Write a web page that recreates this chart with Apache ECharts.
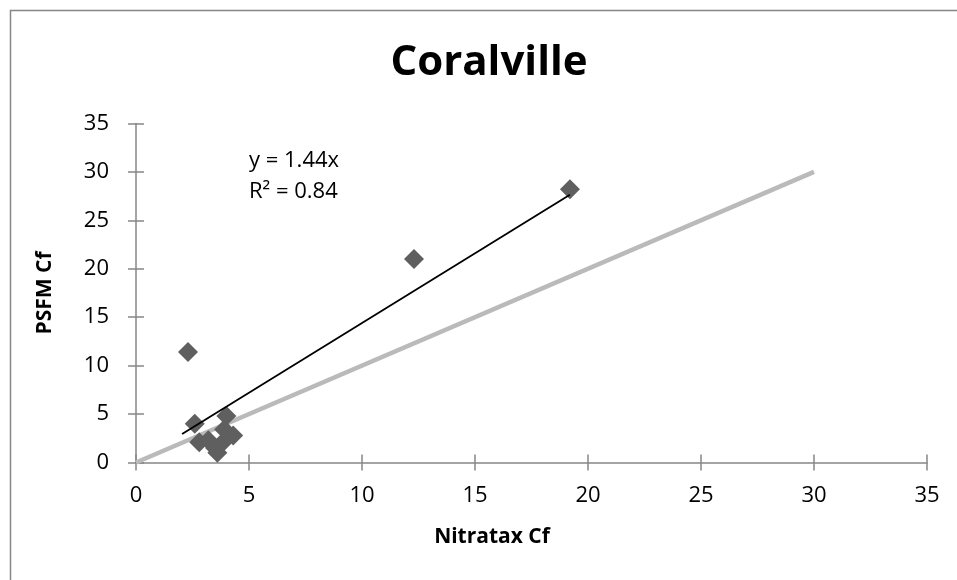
<!DOCTYPE html>
<html><head><meta charset="utf-8">
<script src="https://cdn.jsdelivr.net/npm/echarts@6/dist/echarts.min.js"></script>
<style>html,body{margin:0;padding:0;background:#fff}#c{width:957px;height:580px}</style>
</head><body><div id="c"></div>
<script>
// Data
const nitrataxCf = [2.3, 2.6, 4.0, 4.3, 3.6, 2.8, 3.2, 3.8, 3.9, 3.5, 12.3, 19.2];
const psfmCf     = [11.4, 4.0, 4.8, 2.8, 1.0, 2.1, 2.3, 2.0, 3.4, 1.5, 21.0, 28.2];
const oneToOneX = [0, 30];
const oneToOneY = [0, 30];
const trendX = [2.04, 19.2];
const trendY = [2.94, 27.65];
const trendLabels = ['y = 1.44x', 'R\u00b2 = 0.84'];
const chartTitle = 'Coralville';
const xName = 'Nitratax Cf';
const yName = 'PSFM Cf';
const axisMin = 0, axisMax = 35, axisStep = 5;

const FONT = 'Open Sans';
const AX = '#868686';
const chart = echarts.init(document.getElementById('c'), null, {renderer: 'canvas'});

function baseAxis(extra) {
  return Object.assign({
    type: 'value', min: axisMin, max: axisMax, interval: axisStep,
    splitLine: {show: false},
    axisLine: {onZero: false, lineStyle: {color: AX, width: 1.5}},
    axisTick: {inside: false, length: 8, lineStyle: {color: AX, width: 1.5}},
    axisLabel: {color: '#000', fontFamily: FONT, fontSize: 22}
  }, extra);
}

const option = {
  animation: false,
  backgroundColor: '#fff',
  grid: {left: 136, right: 30, top: 123.5, bottom: 117.5},
  xAxis: [
    baseAxis({position: 'bottom', axisLabel: {color: '#000', fontFamily: FONT, fontSize: 22, margin: 22}}),
    baseAxis({position: 'bottom', axisLine: {show: false},
      axisTick: {inside: true, length: 8, lineStyle: {color: AX, width: 1.5}},
      axisLabel: {show: false}})
  ],
  yAxis: [
    baseAxis({position: 'left', axisLabel: {color: '#000', fontFamily: FONT, fontSize: 22, margin: 27},
      name: yName, nameLocation: 'middle', nameGap: 80,
      nameTextStyle: {color: '#000', fontFamily: FONT, fontSize: 21, fontWeight: 'bold'}}),
    baseAxis({position: 'left', axisLine: {show: false},
      axisTick: {inside: true, length: 8, lineStyle: {color: AX, width: 1.5}},
      axisLabel: {show: false}})
  ],
  series: [
    {type: 'line', xAxisIndex: 0, yAxisIndex: 0, symbol: 'none', silent: true,
      lineStyle: {color: '#bababa', width: 4.5},
      data: oneToOneX.map((x, i) => [x, oneToOneY[i]]), z: 2},
    {type: 'scatter', xAxisIndex: 0, yAxisIndex: 0, symbol: 'diamond', symbolSize: 20,
      itemStyle: {color: '#5f5f5f', opacity: 1},
      data: nitrataxCf.map((x, i) => [x, psfmCf[i]]), z: 3},
    {type: 'line', xAxisIndex: 0, yAxisIndex: 0, symbol: 'none', silent: true,
      lineStyle: {color: '#000', width: 1.8},
      data: trendX.map((x, i) => [x, trendY[i]]), z: 4}
  ],
  graphic: [
    {type: 'rect', z: -1, silent: true, shape: {x: 10.5, y: 10.5, width: 1000, height: 1000},
      style: {fill: 'none', stroke: AX, lineWidth: 1.5}},
    {type: 'text', x: 489, y: 63, style: {text: chartTitle, fontFamily: FONT, fontSize: 42,
      fontWeight: 'bold', fill: '#000', textAlign: 'center', textVerticalAlign: 'middle'}},
    {type: 'text', x: 492, y: 537, style: {text: xName, fontFamily: FONT, fontSize: 21,
      fontWeight: 'bold', fill: '#000', textAlign: 'center', textVerticalAlign: 'middle'}},
    {type: 'text', x: 249, y: 161, style: {text: trendLabels[0], fontFamily: FONT, fontSize: 22,
      fill: '#000', textAlign: 'left', textVerticalAlign: 'middle'}},
    {type: 'text', x: 249, y: 192, style: {text: trendLabels[1], fontFamily: FONT, fontSize: 22,
      fill: '#000', textAlign: 'left', textVerticalAlign: 'middle'}}
  ]
};
chart.setOption(option);
</script>
</body></html>
